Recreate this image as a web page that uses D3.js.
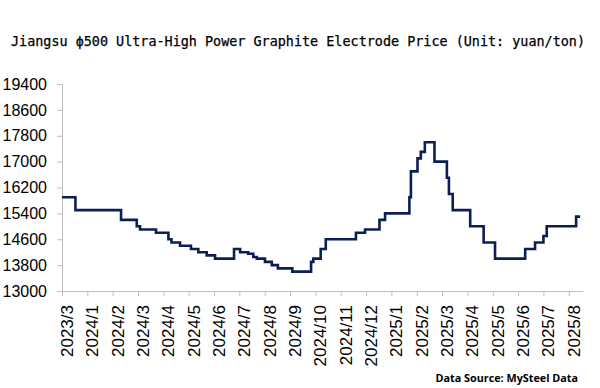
<!DOCTYPE html>
<html>
<head>
<meta charset="utf-8">
<script src="https://cdn.jsdelivr.net/npm/d3@7/dist/d3.min.js"></script>
<style>
  html, body { margin: 0; padding: 0; background: #fff; }
  svg { display: block; }
</style>
</head>
<body>
<svg id="chart" width="600" height="388"></svg>
<script>
// ---- data ----
const titleText = "Jiangsu \u03D5500 Ultra-High Power Graphite Electrode Price (Unit: yuan/ton)";
const sourceText = "Data Source: MySteel Data";
const tickLabels = ["2023/3","2024/1","2024/2","2024/3","2024/4","2024/5","2024/6","2024/7","2024/8","2024/9","2024/10","2024/11","2024/12","2025/1","2025/2","2025/3","2025/4","2025/5","2025/6","2025/7","2025/8"];
const yTicks = [13000,13800,14600,15400,16200,17000,17800,18600,19400];
// step positions (in tick-interval units from first label) and prices
const stepPos   = [0, 0.53, 2.33, 2.95, 3.08, 3.71, 4.2, 4.32, 4.66, 5.09, 5.38, 5.71, 6.04, 6.79, 7.03, 7.35, 7.55, 7.69, 8.01, 8.28, 8.52, 9.09, 9.83, 9.92, 10.21, 10.41, 11.6, 11.96, 12.53, 12.75, 13.71, 13.77, 14.03, 14.16, 14.32, 14.7, 15.19, 15.27, 15.42, 16.11, 16.64, 17.09, 18.28, 18.67, 19.0, 19.13, 20.29, 20.45];
const stepPrice = [15900, 15500, 15200, 15000, 14900, 14800, 14600, 14500, 14400, 14300, 14200, 14100, 14000, 14300, 14200, 14150, 14050, 14000, 13900, 13800, 13700, 13600, 13900, 14000, 14300, 14600, 14800, 14900, 15200, 15400, 15900, 16700, 17100, 17300, 17600, 17000, 16500, 16000, 15500, 15000, 14500, 14000, 14300, 14500, 14700, 15000, 15300, 15300];

// ---- layout ----
const svg = d3.select("#chart");
const x0 = 62, x1 = 582.7, yTop = 84, yBot = 291;
const x = d3.scaleLinear().domain([0, 20.55]).range([x0, x1]);
const y = d3.scaleLinear().domain([13000, 19400]).range([yBot, yTop]);
const axisColor = "#bfbfbf";

// title
svg.append("text")
  .attr("x", 11).attr("y", 46)
  .attr("font-family", "'DejaVu Sans Mono', monospace")
  .attr("font-size", 13.5)
  .attr("fill", "#000")
  .attr("stroke", "#000").attr("stroke-width", 0.25)
  .attr("textLength", 574)
  .attr("lengthAdjust", "spacingAndGlyphs")
  .text(titleText);

// y axis
const yAxis = svg.append("g").attr("transform", `translate(${x0},0)`)
  .call(d3.axisLeft(y).tickValues(yTicks).tickSize(5).tickPadding(10).tickFormat(d3.format("d")));
yAxis.select(".domain").attr("stroke", axisColor);
yAxis.selectAll(".tick line").attr("stroke", axisColor);
yAxis.selectAll(".tick text")
  .attr("font-family", "'Liberation Sans', Arial, sans-serif")
  .attr("font-size", 16).attr("fill", "#000");

// x axis
const xAxis = svg.append("g").attr("transform", `translate(0,${yBot})`)
  .call(d3.axisBottom(x).tickValues(d3.range(tickLabels.length)).tickSize(5).tickSizeOuter(0)
    .tickFormat(i => tickLabels[i]));
xAxis.select(".domain").attr("stroke", axisColor);
xAxis.selectAll(".tick line").attr("stroke", axisColor);
xAxis.selectAll(".tick text")
  .attr("font-family", "'Liberation Sans', Arial, sans-serif")
  .attr("font-size", 17).attr("fill", "#000")
  .attr("text-anchor", "end")
  .attr("dy", null)
  .attr("transform", "rotate(-90)")
  .attr("x", -14).attr("y", 10.5);

// line
const pts = stepPos.map((p, i) => [p, stepPrice[i]]);
const line = d3.line().x(d => x(d[0])).y(d => y(d[1])).curve(d3.curveStepAfter);
svg.append("path")
  .datum(pts)
  .attr("d", line)
  .attr("fill", "none")
  .attr("stroke", "#0b1f55")
  .attr("stroke-width", 2.6)
  .attr("stroke-linejoin", "miter");

// source
svg.append("text")
  .attr("x", 578).attr("y", 382)
  .attr("text-anchor", "end")
  .attr("font-family", "'Open Sans', 'Noto Sans', sans-serif")
  .attr("font-weight", 700)
  .attr("font-size", 10.8)
  .attr("fill", "#000")
  .text(sourceText);
</script>
</body>
</html>
